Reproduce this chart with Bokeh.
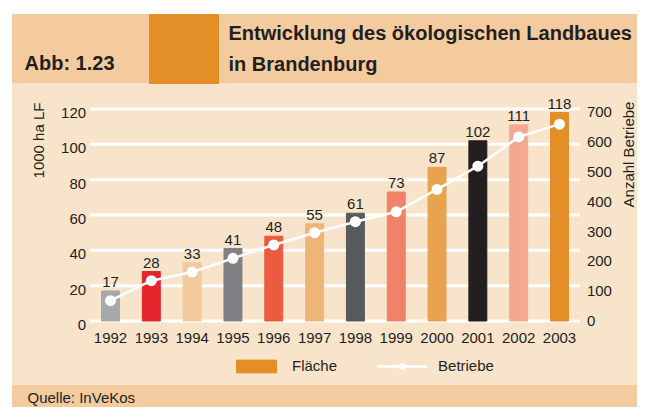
import math
from bokeh.plotting import figure
from bokeh.models import ColumnDataSource, Range1d, Legend, LegendItem
from bokeh.embed import file_html
from bokeh.resources import INLINE
from bokeh.core.properties import value

# ---------------- data ----------------
years = [1992, 1993, 1994, 1995, 1996, 1997, 1998, 1999, 2000, 2001, 2002, 2003]
flaeche = [17, 28, 33, 41, 48, 55, 61, 73, 87, 102, 111, 118]
betriebe = [68, 135, 164, 210, 255, 296, 333, 366, 441, 519, 617, 660]
bar_colors = ["#A6A8AB", "#E4252B", "#F3CA9B", "#808184", "#EB5B40", "#EDB677",
              "#58595B", "#F0826A", "#E8A34F", "#231F20", "#F5A891", "#E38E27"]
left_ticks = [0, 20, 40, 60, 80, 100, 120]
right_ticks = [0, 100, 200, 300, 400, 500, 600, 700]

title_lines = ["Entwicklung des ökologischen Landbaues", "in Brandenburg"]
fig_no = "Abb: 1.23"
left_title = "1000 ha LF"
right_title = "Anzahl Betriebe"
source_note = "Quelle: InVeKos"
legend_labels = ["Fläche", "Betriebe"]

# ---------------- style / layout ----------------
FONT = "Liberation Sans"
W, H = 637, 407
HEADER_BG = "#F3CB9F"
BODY_BG = "#F8E4CB"
ORANGE = "#E38E26"
TXT = "#231F20"

# pixel layout of the canvas (y measured from the top)
PX_PER_CAT = 40.818
FIRST_CAT_PX = 110.0
ZERO_PX = 320.5
L_PX_PER_UNIT = 1.7667
R_PX_PER_UNIT = 0.29829

x_lo = years[0] - FIRST_CAT_PX / PX_PER_CAT
x_hi = years[0] + (W - FIRST_CAT_PX) / PX_PER_CAT
yl_lo = (ZERO_PX - H) / L_PX_PER_UNIT
yl_hi = ZERO_PX / L_PX_PER_UNIT
yr_lo = (ZERO_PX - H) / R_PX_PER_UNIT
yr_hi = ZERO_PX / R_PX_PER_UNIT

p = figure(width=W, height=H, x_range=Range1d(x_lo, x_hi),
           y_range=Range1d(yl_lo, yl_hi),
           x_axis_location=None, y_axis_location=None,
           toolbar_location=None, output_backend="svg",
           min_border=0, min_border_left=0, min_border_right=0,
           min_border_top=0, min_border_bottom=0,
           background_fill_color="white", border_fill_color="white",
           outline_line_color=None)
p.xgrid.visible = False
p.ygrid.visible = False
p.extra_y_ranges = {"b": Range1d(yr_lo, yr_hi), "py": Range1d(H, 0)}
p.extra_x_ranges = {"px": Range1d(0, W)}

PX = dict(x_range_name="px", y_range_name="py")

# panel bands
p.quad(left=[12, 12, 12], right=[W, W, W], top=[14, 83, 385], bottom=[83, 385, H],
       color=[HEADER_BG, BODY_BG, HEADER_BG], **PX)
p.quad(left=[149], right=[218], top=[14], bottom=[83], color=ORANGE, **PX)

# header texts
p.text(x=[24], y=[62], text=[fig_no], text_font=value(FONT),
       text_font_style="bold", text_font_size="20px", text_color=TXT,
       text_baseline="middle", **PX)
p.text(x=[228, 228], y=[32, 63], text=title_lines, text_font=value(FONT),
       text_font_style="bold", text_font_size="20px", text_color=TXT,
       text_baseline="middle", **PX)

# grid lines (left scale)
gx0 = years[0] - 0.5
gx1 = years[-1] + 0.5
p.segment(x0=[gx0] * len(left_ticks), x1=[gx1] * len(left_ticks),
          y0=left_ticks, y1=left_ticks, line_color="white", line_width=3)

# tick labels
p.text(x=[gx0] * len(left_ticks), y=left_ticks, text=[str(t) for t in left_ticks],
       x_offset=-4, y_offset=4, text_align="right", text_baseline="middle",
       text_font=value(FONT), text_font_size="15px", text_color=TXT)
p.text(x=[gx1] * len(right_ticks), y=right_ticks, text=[str(t) for t in right_ticks],
       y_range_name="b", x_offset=7, y_offset=0, text_align="left",
       text_baseline="middle", text_font=value(FONT), text_font_size="15px",
       text_color=TXT)
p.text(x=years, y=[0] * len(years), text=[str(y) for y in years],
       y_offset=17, text_align="center", text_baseline="middle",
       text_font=value(FONT), text_font_size="15px", text_color=TXT)

# axis titles
p.text(x=[38], y=[140], text=[left_title], angle=math.pi / 2,
       text_align="center", text_baseline="middle", text_font=value(FONT),
       text_font_size="15px", text_color=TXT, **PX)
p.text(x=[628], y=[154], text=[right_title], angle=math.pi / 2,
       text_align="center", text_baseline="middle", text_font=value(FONT),
       text_font_size="15px", text_color=TXT, **PX)

# data
src = ColumnDataSource(dict(year=years, flaeche=flaeche, betriebe=betriebe,
                            color=bar_colors, lbl=[str(v) for v in flaeche]))
bars = p.vbar(x="year", top="flaeche", bottom=0, width=0.44, color="color",
              source=src)
p.text(x="year", y="flaeche", text="lbl", source=src, text_align="center",
       text_baseline="middle", y_offset=-9, text_font=value(FONT),
       text_font_size="15px", text_color=TXT)
line = p.line(x="year", y="betriebe", y_range_name="b", source=src,
              line_color="white", line_width=2.5)
pts = p.scatter(x="year", y="betriebe", y_range_name="b", source=src,
                size=11, fill_color="white", line_color=None)

legend = Legend(items=[LegendItem(label=legend_labels[0], renderers=[bars], index=len(years) - 1),
                       LegendItem(label=legend_labels[1], renderers=[line, pts])],
                orientation="horizontal", location=(231, 33), margin=0,
                padding=0, spacing=40, glyph_width=50, glyph_height=16,
                label_standoff=11, background_fill_alpha=0,
                border_line_color=None, label_text_font=FONT,
                label_text_font_size="15px", label_text_color=TXT)
p.add_layout(legend, "center")

# footer
p.text(x=[27], y=[397], text=[source_note], text_font=value(FONT),
       text_font_size="15px", text_color=TXT, text_baseline="middle", **PX)

open("out.html", "w").write(file_html(p, INLINE))
